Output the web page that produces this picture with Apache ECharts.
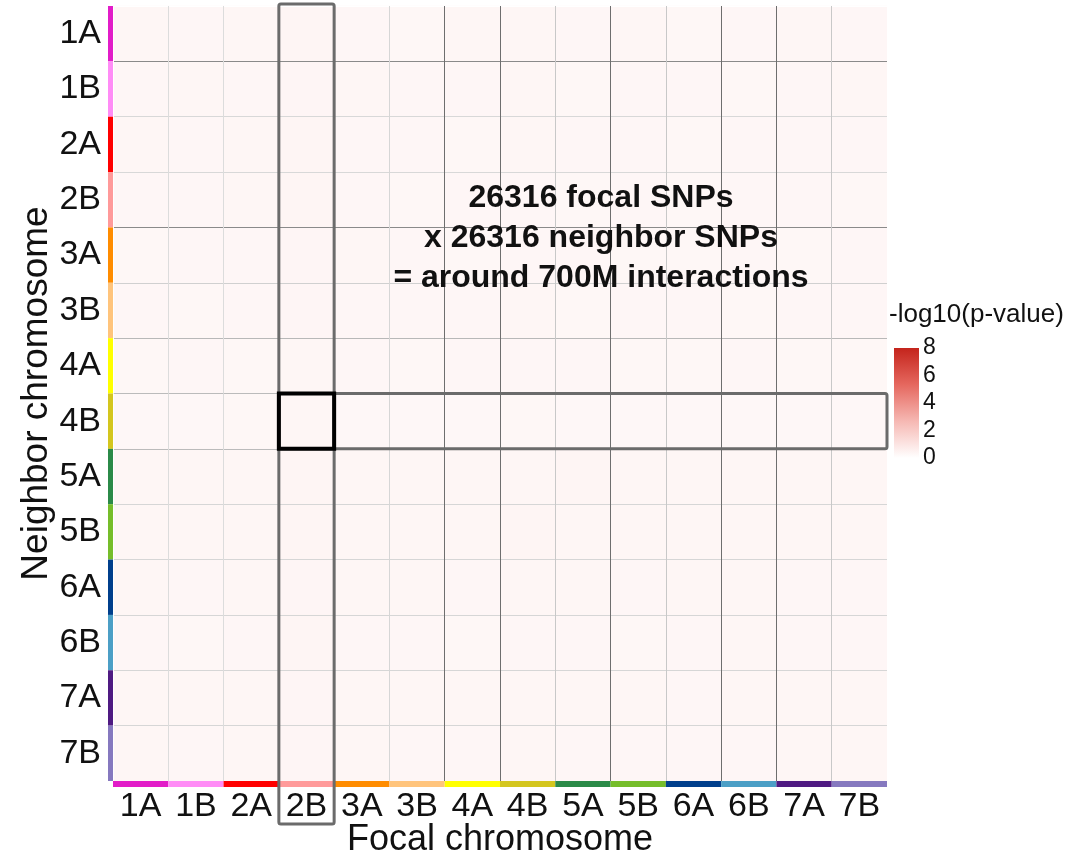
<!DOCTYPE html>
<html>
<head>
<meta charset="utf-8">
<script src="https://cdn.jsdelivr.net/npm/echarts@6/dist/echarts.min.js"></script>
<style>
  html, body { margin: 0; padding: 0; background: #ffffff; }
  #chart { width: 1065px; height: 856px; }
</style>
</head>
<body>
<div id="chart"></div>
<script>
// Chromosome labels (same order on both axes)
const chromosomes = ['1A','1B','2A','2B','3A','3B','4A','4B','5A','5B','6A','6B','7A','7B'];

// Colour key for each chromosome strip
const chromColors = ['#e21cc8','#ff8cf6','#ff0000','#ff9a9a','#ff8c00','#ffc47c','#ffff00',
                     '#d4c61e','#2b8a48','#76bd2a','#003f8c','#4c9fc6','#4f1a82','#8679bf'];

// Mean -log10(p-value) per block: rows = neighbor chromosome, columns = focal chromosome
const blockRows = [
  [0.36,0.33,0.34,0.38,0.33,0.32,0.34,0.36,0.33,0.34,0.32,0.33,0.34,0.33],
  [0.33,0.36,0.33,0.37,0.34,0.33,0.33,0.34,0.32,0.33,0.33,0.32,0.33,0.34],
  [0.34,0.33,0.36,0.38,0.33,0.33,0.32,0.34,0.33,0.33,0.32,0.33,0.33,0.33],
  [0.33,0.33,0.34,0.40,0.33,0.32,0.33,0.33,0.32,0.33,0.32,0.33,0.33,0.32],
  [0.32,0.33,0.33,0.37,0.34,0.33,0.32,0.33,0.33,0.32,0.32,0.33,0.32,0.33],
  [0.33,0.32,0.33,0.37,0.33,0.33,0.33,0.34,0.32,0.33,0.33,0.32,0.33,0.33],
  [0.32,0.33,0.32,0.36,0.33,0.32,0.33,0.33,0.33,0.32,0.32,0.33,0.32,0.32],
  [0.30,0.30,0.32,0.36,0.30,0.30,0.30,0.32,0.30,0.30,0.30,0.30,0.30,0.30],
  [0.36,0.34,0.34,0.38,0.36,0.34,0.36,0.36,0.38,0.36,0.34,0.36,0.34,0.34],
  [0.36,0.34,0.36,0.38,0.36,0.36,0.36,0.38,0.36,0.36,0.34,0.36,0.36,0.34],
  [0.34,0.33,0.34,0.37,0.34,0.34,0.33,0.34,0.34,0.33,0.36,0.34,0.33,0.33],
  [0.33,0.32,0.33,0.38,0.33,0.33,0.32,0.33,0.33,0.32,0.33,0.34,0.33,0.33],
  [0.36,0.34,0.36,0.37,0.34,0.34,0.34,0.36,0.34,0.34,0.33,0.34,0.36,0.34],
  [0.34,0.33,0.34,0.37,0.34,0.33,0.33,0.34,0.33,0.33,0.33,0.33,0.34,0.36]
];

// Colour-bar tick range
const scaleMin = 0;
const scaleMax = 8;
const scaleStep = 2;

// Highlighted focal / neighbor chromosome pair
const focalPick = '2B';
const neighborPick = '4B';

// Shade of each block boundary line (13 inner boundaries)
const colBoundaryShades = ['#dcdcdc','#dcdcdc','#bbbbbb','#bbbbbb','#d6d6d6','#6e6e6e','#6e6e6e',
                           '#c8c8c8','#6e6e6e','#c8c8c8','#6e6e6e','#6e6e6e','#c8c8c8'];
const rowBoundaryShades = ['#8a8a8a','#d8d8d8','#d8d8d8','#8a8a8a','#d0d0d0','#b8b8b8','#bbbbbb',
                           '#bbbbbb','#d6d6d6','#d6d6d6','#d6d6d6','#d6d6d6','#d6d6d6'];

const heatData = [];
blockRows.forEach((row, yi) => row.forEach((v, xi) => heatData.push([xi, yi, v])));

const FONT = 'Liberation Sans, Arial, Helvetica, sans-serif';
const GRID = { left: 113, top: 6, width: 774, height: 775 };

const chart = echarts.init(document.getElementById('chart'), null, { renderer: 'canvas' });

function stripItem(vertical) {
  return function (params, api) {
    const idx = api.value(0);
    const cs = params.coordSys;
    if (vertical) {
      const p = api.coord([0, idx]);
      const h = api.size([1, 1])[1];
      return { type: 'rect', shape: { x: cs.x - 5, y: p[1] - h / 2, width: 5, height: h },
               style: { fill: chromColors[idx] } };
    }
    const p = api.coord([idx, 0]);
    const w = api.size([1, 1])[0];
    return { type: 'rect', shape: { x: p[0] - w / 2, y: cs.y + cs.height, width: w, height: 6 },
             style: { fill: chromColors[idx] } };
  };
}

const option = {
  backgroundColor: '#ffffff',
  animation: false,
  textStyle: { fontFamily: FONT },
  title: [
    {
      text: '26316 focal SNPs\nx 26316 neighbor SNPs\n= around 700M interactions',
      left: 596, top: 173, textAlign: 'center',
      textStyle: { fontFamily: FONT, fontSize: 32, fontWeight: 'bold', color: '#111111', lineHeight: 40 }
    },
    {
      text: '-log10(p-value)',
      left: 884, top: 297,
      textStyle: { fontFamily: FONT, fontSize: 26, fontWeight: 'normal', color: '#111111' }
    }
  ],
  grid: [
    { left: GRID.left, top: GRID.top, width: GRID.width, height: GRID.height,
      containLabel: false, outerBoundsMode: 'none' },
    { left: 894, top: 348, width: 25, height: 110, containLabel: false, outerBoundsMode: 'none' }
  ],
  xAxis: [
    {
      type: 'category', gridIndex: 0, data: chromosomes, z: 5,
      name: 'Focal chromosome', nameLocation: 'middle', nameGap: 41, nameMoveOverlap: false,
      nameTextStyle: { fontFamily: FONT, fontSize: 36, color: '#111111' },
      axisLine: { show: false }, axisTick: { show: false },
      axisLabel: { fontFamily: FONT, fontSize: 34, color: '#111111', margin: 9 },
      splitLine: { show: true, interval: 0, lineStyle: { color: ['#ffffff'].concat(colBoundaryShades).concat(['#ffffff']), width: 1 } }
    },
    {
      type: 'category', gridIndex: 1, data: ['scale'], show: false
    }
  ],
  yAxis: [
    {
      type: 'category', gridIndex: 0, data: chromosomes, inverse: true, z: 5,
      name: 'Neighbor chromosome', nameLocation: 'middle', nameGap: 58, nameMoveOverlap: false,
      nameTextStyle: { fontFamily: FONT, fontSize: 37, color: '#111111' },
      axisLine: { show: false }, axisTick: { show: false },
      axisLabel: { fontFamily: FONT, fontSize: 34, color: '#111111', margin: 12 },
      splitLine: { show: true, interval: 0, lineStyle: { color: ['#ffffff'].concat(rowBoundaryShades).concat(['#ffffff']), width: 1 } }
    },
    {
      type: 'value', gridIndex: 1, min: scaleMin, max: scaleMax, interval: scaleStep, position: 'right',
      axisLine: { show: false },
      axisTick: { show: true, inside: true, length: 5, lineStyle: { color: '#ffffff', width: 1 } },
      splitLine: { show: false },
      axisLabel: { fontFamily: FONT, fontSize: 23, color: '#111111', margin: 4 }
    }
  ],
  visualMap: {
    show: false, min: scaleMin, max: scaleMax, dimension: 2, seriesIndex: 0,
    inRange: { color: ['#ffffff', '#f6b9b4', '#e5675e', '#c4241c'] }
  },
  series: [
    {
      type: 'heatmap', xAxisIndex: 0, yAxisIndex: 0, data: heatData,
      itemStyle: { borderWidth: 0 }, emphasis: { disabled: true }
    },
    {
      type: 'custom', xAxisIndex: 0, yAxisIndex: 0, clip: false,
      data: chromosomes.map((c, i) => [i]), renderItem: stripItem(true), z: 6
    },
    {
      type: 'custom', xAxisIndex: 0, yAxisIndex: 0, clip: false,
      data: chromosomes.map((c, i) => [i]), renderItem: stripItem(false), z: 6
    },
    {
      type: 'bar', xAxisIndex: 1, yAxisIndex: 1, data: [scaleMax], barWidth: 25, silent: true,
      itemStyle: {
        color: new echarts.graphic.LinearGradient(0, 1, 0, 0, [
          { offset: 0, color: '#ffffff' },
          { offset: 0.33, color: '#f6b9b4' },
          { offset: 0.67, color: '#e5675e' },
          { offset: 1, color: '#c4241c' }
        ])
      }
    }
  ]
};

chart.setOption(option);

// Outline boxes around the selected focal column, neighbor row and their crossing block
const fi = chromosomes.indexOf(focalPick);
const ni = chromosomes.indexOf(neighborPick);
const cell = chart.convertToPixel({ gridIndex: 0 }, [fi, ni]);
const bw = GRID.width / chromosomes.length;
const bh = GRID.height / chromosomes.length;
const x0 = cell[0] - bw / 2, y0 = cell[1] - bh / 2;

chart.setOption({
  graphic: [
    {
      type: 'rect', z: 100,
      shape: { x: x0, y: GRID.top - 2, width: bw, height: 826 - GRID.top, r: 2 },
      style: { fill: 'none', stroke: '#6b6b6b', lineWidth: 3 }
    },
    {
      type: 'rect', z: 100,
      shape: { x: x0, y: y0, width: GRID.left + GRID.width - x0, height: bh, r: 2 },
      style: { fill: 'none', stroke: '#6b6b6b', lineWidth: 3 }
    },
    {
      type: 'rect', z: 101,
      shape: { x: x0, y: y0, width: bw, height: bh },
      style: { fill: 'none', stroke: '#000000', lineWidth: 4 }
    }
  ]
});
</script>
</body>
</html>
